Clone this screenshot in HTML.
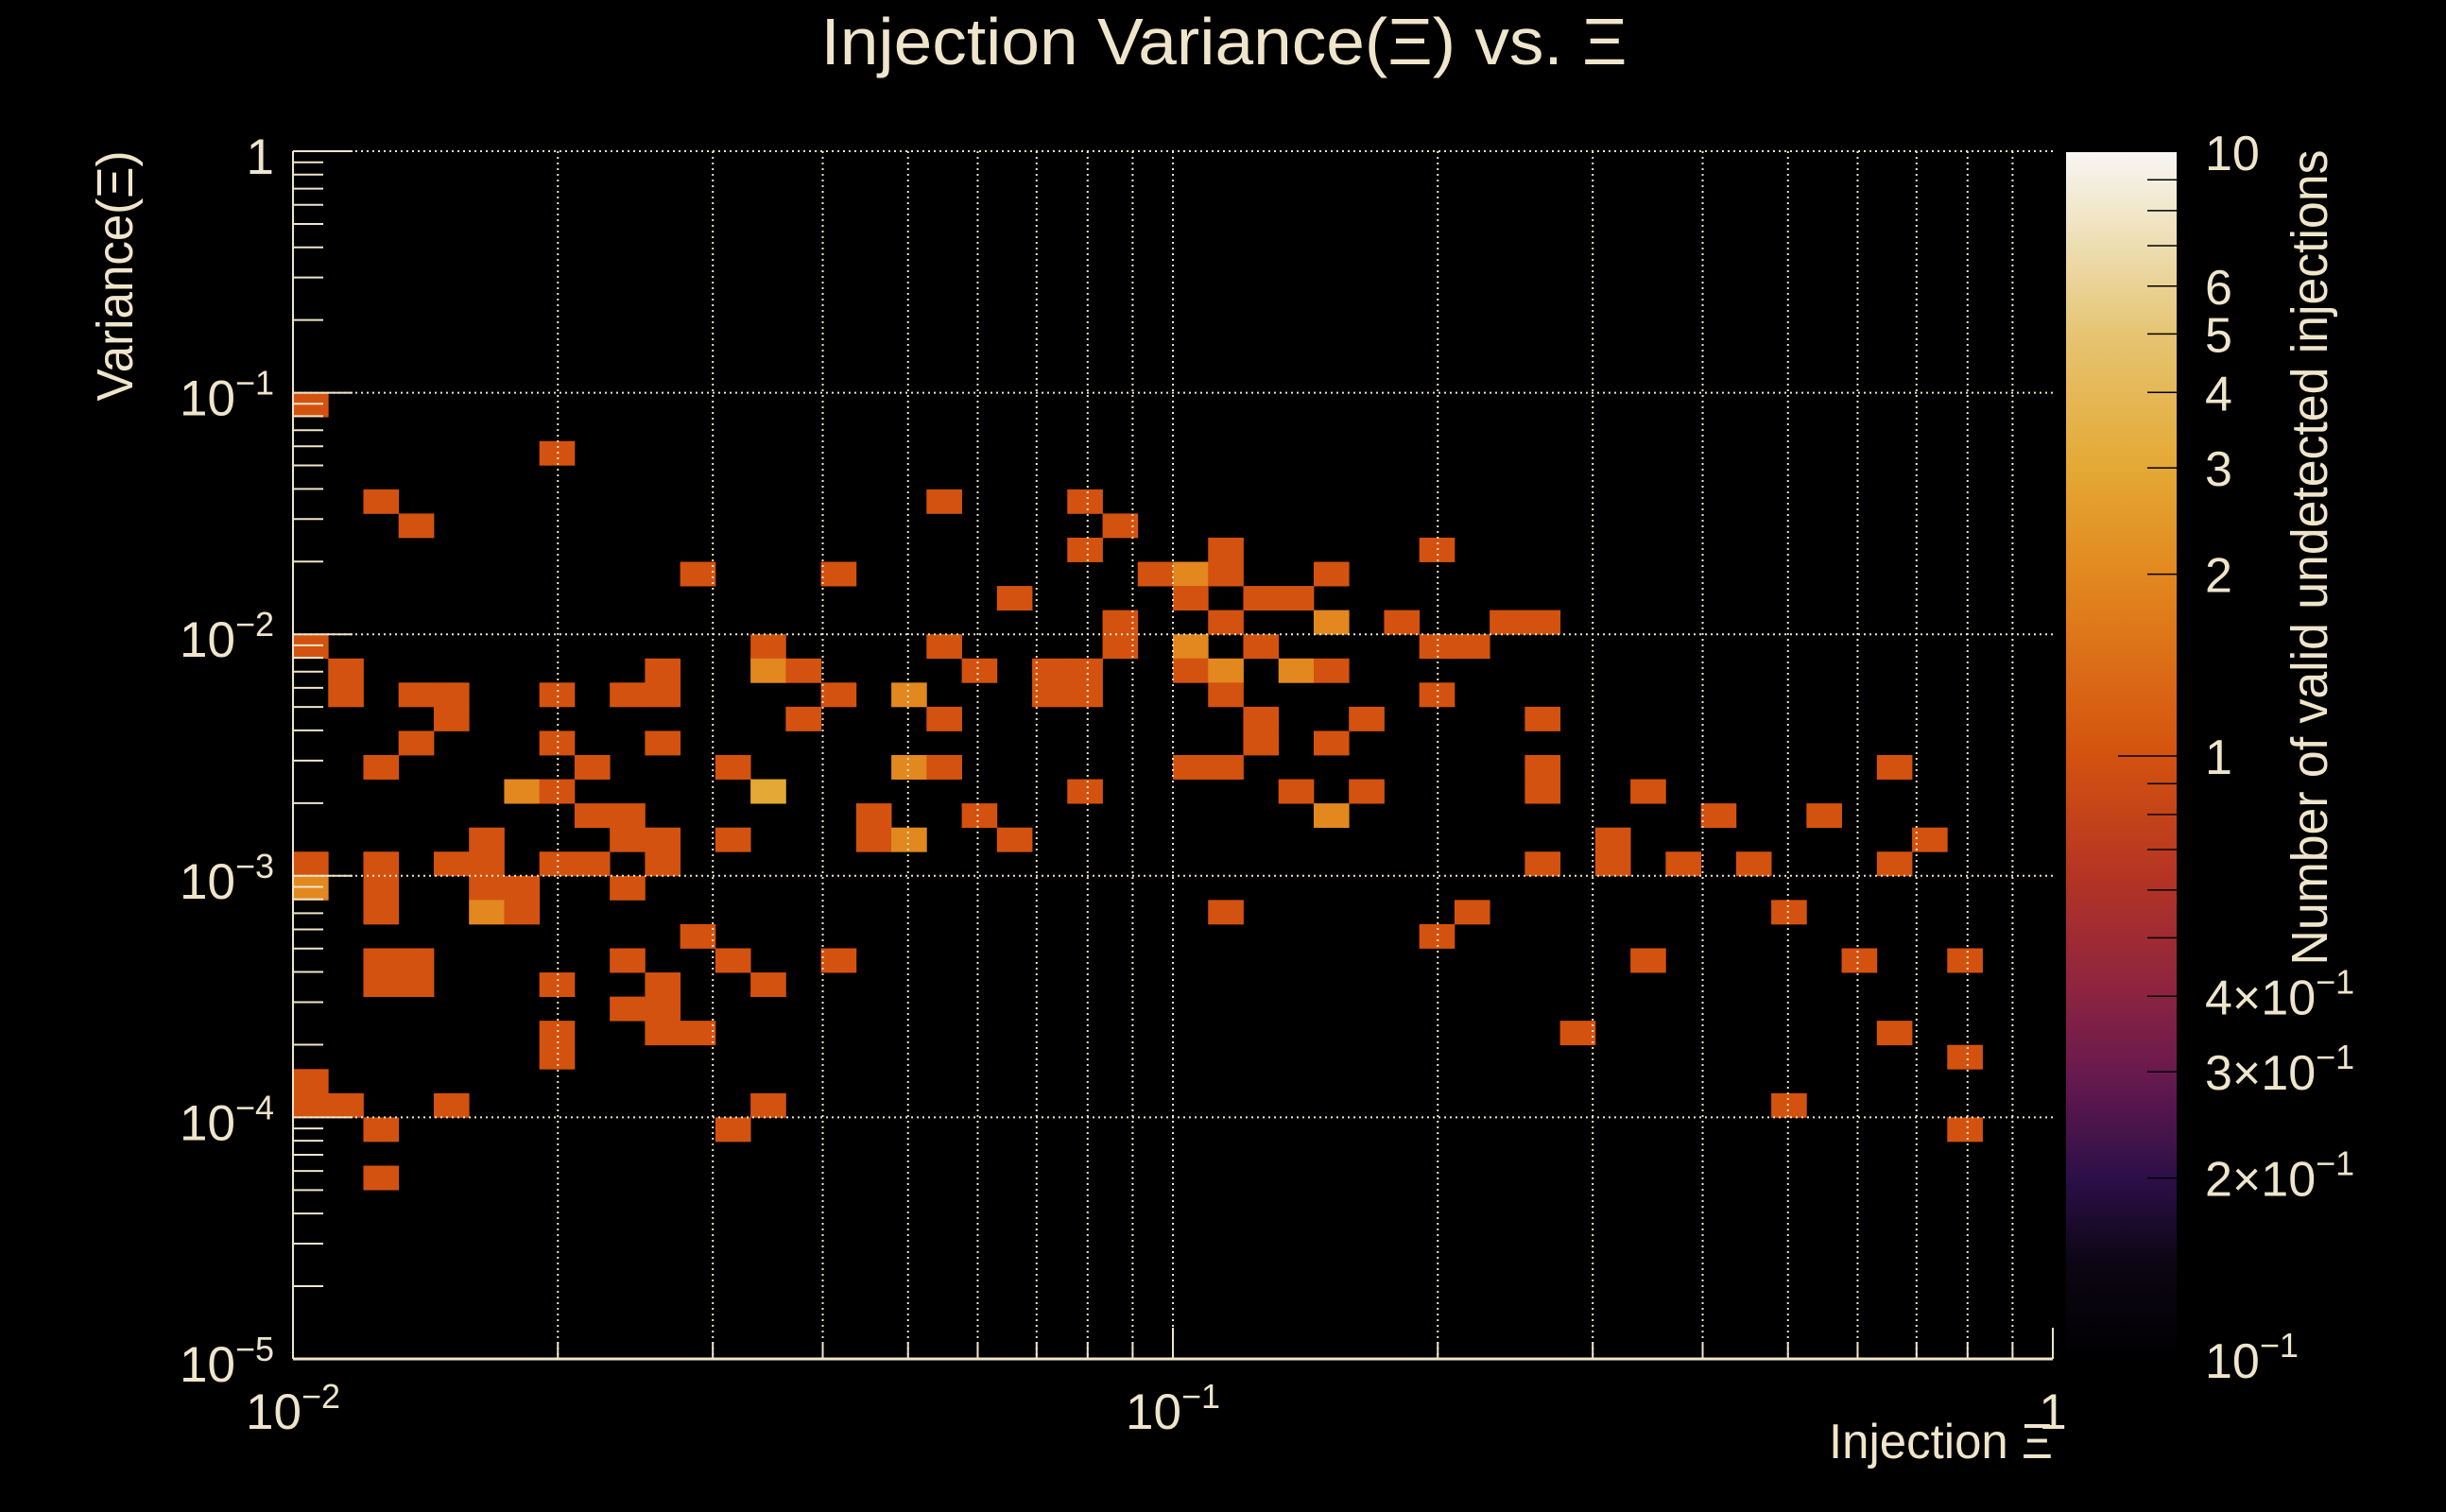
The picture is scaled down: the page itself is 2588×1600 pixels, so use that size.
<!DOCTYPE html>
<html><head><meta charset="utf-8"><style>
html,body{margin:0;padding:0;background:#000;}
svg{display:block;font-family:"Liberation Sans",sans-serif;}
</style></head><body>
<svg id="chart" width="2588" height="1600" viewBox="0 0 2588 1600" xmlns="http://www.w3.org/2000/svg">
<defs>
<linearGradient id="cbgrad" x1="0" y1="1" x2="0" y2="0">
<stop offset="0" stop-color="#000000"/><stop offset="0.08" stop-color="#0c0614"/><stop offset="0.15" stop-color="#2c0f48"/><stop offset="0.24" stop-color="#6a1a4e"/><stop offset="0.30" stop-color="#8a2342"/><stop offset="0.40" stop-color="#b43424"/><stop offset="0.5" stop-color="#d4520f"/><stop offset="0.65" stop-color="#e2881f"/><stop offset="0.74" stop-color="#e4a935"/><stop offset="0.85" stop-color="#e6c473"/><stop offset="0.93" stop-color="#eee0b8"/><stop offset="1" stop-color="#f8f6f4"/>
</linearGradient>
</defs>
<rect x="0" y="0" width="2588" height="1600" fill="#000"/>
<g id="cells"></g>
<g id="grid"></g>
<g id="axes"></g>
<g id="cbar"></g>
<text x="1295" y="68" font-size="70" fill="#efe5cb" text-anchor="middle" textLength="853" lengthAdjust="spacingAndGlyphs">Injection Variance(Ξ) vs. Ξ</text>
<text transform="translate(140,292) rotate(-90)" font-size="54" fill="#efe5cb" text-anchor="middle" textLength="265" lengthAdjust="spacingAndGlyphs">Variance(Ξ)</text>
<text x="2172" y="1543" font-size="52" fill="#efe5cb" text-anchor="end" textLength="237" lengthAdjust="spacingAndGlyphs">Injection Ξ</text>
<text transform="translate(2462,590) rotate(-90)" font-size="54" fill="#efe5cb" text-anchor="middle" textLength="863" lengthAdjust="spacingAndGlyphs">Number of valid undetected injections</text>
</svg>
<script>
// Data: 50x50 log bins; xBin index from left (0.01..1), yBin index from bottom (1e-5..1)
const xBins = [0,7,2,18,22,3,23,22,26,32,11,15,24,25,26,29,20,25,27,28,23,26,29,31,34,35,0,13,18,23,25,27,32,33,1,10,13,14,19,21,22,25,26,28,29,1,3,4,7,9,10,15,17,21,22,26,32,4,14,18,27,30,35,3,7,10,27,29,2,8,12,17,18,25,26,35,45,6,7,13,22,28,30,35,38,8,9,16,19,29,40,43,5,9,10,12,16,17,20,37,46,0,2,4,5,7,8,10,35,37,39,41,45,0,2,5,6,9,2,5,6,26,33,42,11,32,2,3,9,12,15,38,44,47,2,3,7,10,13,9,10,7,10,11,36,45,7,47,0,0,1,4,13,42,2,12,47,2,7];
const yRows = [10,12,14,14,14,15,15,16,16,16,17,17,17,17,17,17,18,18,18,18,19,19,19,19,19,19,20,20,20,20,20,20,20,20,21,21,21,21,21,21,21,21,21,21,21,22,22,22,22,22,22,22,22,22,22,22,22,23,23,23,23,23,23,24,24,24,24,24,25,25,25,25,25,25,25,25,25,26,26,26,26,26,26,26,26,27,27,27,27,27,27,27,28,28,28,28,28,28,28,28,28,29,29,29,29,29,29,29,29,29,29,29,29,30,30,30,30,30,31,31,31,31,31,31,32,32,33,33,33,33,33,33,33,33,34,34,34,34,34,35,35,36,36,36,36,36,37,37,38,39,39,39,39,39,40,40,40,42,42];
const counts = [1,1,1,1,1,1,1,1,1,1,1,1,1,2,1,1,1,1,1,1,1,1,2,1,1,1,1,1,1,1,2,1,1,1,1,1,2,1,1,1,1,1,2,2,1,1,1,1,1,1,1,1,2,1,1,1,1,1,1,1,1,1,1,1,1,1,1,1,1,1,1,2,1,1,1,1,1,2,1,3,1,1,1,1,1,1,1,1,1,2,1,1,1,1,1,1,1,2,1,1,1,1,1,1,1,1,1,1,1,1,1,1,1,2,1,1,1,1,1,2,1,1,1,1,1,1,1,1,1,1,1,1,1,1,1,1,1,1,1,1,1,1,1,1,1,1,1,1,1,1,1,1,1,1,1,1,1,1];
const yBins = yRows.map(r => 49 - r);
const xTickLabels = ["10","10","1"];
const xTickExps = ["−2","−1",""];
const yTickExps = ["−5","−4","−3","−2","−1",""];
const cbMajor = [0.2,0.3,0.4,1,2,3,4,5,6,10];
const cbLabels = ["2×10","3×10","4×10","1","2","3","4","5","6","10"];

const NS="http://www.w3.org/2000/svg", TXT="#efe5cb";
const PL=310, PR=2172, PT=160, PB=1438;
const xS = v => PL + (Math.log10(v)+2)/2*(PR-PL);
const yS = v => PB - (Math.log10(v)+5)/5*(PB-PT);
const CB={x0:2186,x1:2303,t:161,b:1439};
const cS = v => CB.b - (Math.log10(v)+1)/2*(CB.b-CB.t);
const stops=[[0,"#000000"],[0.08,"#0c0614"],[0.15,"#2c0f48"],[0.24,"#6a1a4e"],[0.30,"#8a2342"],[0.40,"#b43424"],[0.5,"#d4520f"],[0.65,"#e2881f"],[0.74,"#e4a935"],[0.85,"#e6c473"],[0.93,"#eee0b8"],[1,"#f8f6f4"]];
function hex(c){return [1,3,5].map(i=>parseInt(c.substr(i,2),16));}
function cmap(v){const f=Math.max(0,Math.min(1,(Math.log10(v)+1)/2));
 for(let i=1;i<stops.length;i++){if(f<=stops[i][0]){const a=stops[i-1],b=stops[i],t=(f-a[0])/(b[0]-a[0]);const A=hex(a[1]),B=hex(b[1]);
 return "rgb("+A.map((x,k)=>Math.round(x+(B[k]-x)*t)).join(",")+")";}} return stops[stops.length-1][1];}
function el(tag,attrs,parent){const e=document.createElementNS(NS,tag);for(const k in attrs)e.setAttribute(k,attrs[k]);parent.appendChild(e);return e;}

const cells=document.getElementById("cells");
for(let i=0;i<counts.length;i++){
 const x0=xS(Math.pow(10,-2+xBins[i]*0.04)), x1=xS(Math.pow(10,-2+(xBins[i]+1)*0.04));
 const y1=yS(Math.pow(10,-5+yBins[i]*0.1)), y0=yS(Math.pow(10,-5+(yBins[i]+1)*0.1));
 const r=el("rect",{x:x0.toFixed(2),y:y0.toFixed(2),width:(x1-x0+0.4).toFixed(2),height:(y1-y0+0.4).toFixed(2),fill:cmap(counts[i])},cells);
 
 
}
const grid=document.getElementById("grid");
for(let d=-2;d<0;d++)for(let m=1;m<=9;m++){const v=m*Math.pow(10,d);if(d===-2&&m===1)continue;const x=xS(v);
 const g=el("line",{x1:x,y1:PT,x2:x,y2:PB,stroke:TXT,"stroke-width":2,"stroke-dasharray":"2 4"},grid);
 
 }
for(let d=-4;d<=0;d++){const y=yS(Math.pow(10,d));
 const g=el("line",{x1:PL,y1:y,x2:PR,y2:y,stroke:TXT,"stroke-width":2,"stroke-dasharray":"2 4"},grid);
 
 }
const ax=document.getElementById("axes");
el("line",{x1:PL,y1:PT,x2:PL,y2:PB,stroke:TXT,"stroke-width":2},ax);
el("line",{x1:PL,y1:PB,x2:PR,y2:PB,stroke:TXT,"stroke-width":3},ax);
for(let d=-5;d<0;d++)for(let m=1;m<=9;m++){const y=yS(m*Math.pow(10,d));const len=m===1?63:32;
 el("line",{x1:PL,y1:y,x2:PL+len,y2:y,stroke:TXT,"stroke-width":2},ax);}
el("line",{x1:PL,y1:PT,x2:PL+63,y2:PT,stroke:TXT,"stroke-width":2},ax);
for(let d=-2;d<=0;d++)for(let m=1;m<=9;m++){if(d===0&&m>1)break;const x=xS(m*Math.pow(10,d));const len=m===1?33:18;
 el("line",{x1:x,y1:PB,x2:x,y2:PB-len,stroke:TXT,"stroke-width":2},ax);}
// y tick labels
for(let k=0;k<yTickExps.length;k++){const y=yS(Math.pow(10,k-5));
 const t=el("text",{x:290,y:y+24,"font-size":53,fill:TXT,"text-anchor":"end"},ax);
 
 
 if(yTickExps[k]===""){t.textContent="1";}
 else{t.appendChild(document.createTextNode("10"));const s=el("tspan",{"font-size":36,dy:-22},t);s.textContent=yTickExps[k];}}
// x tick labels
for(let k=0;k<xTickLabels.length;k++){const x=xS(Math.pow(10,k-2));
 const t=el("text",{x:x,y:1512,"font-size":53,fill:TXT,"text-anchor":"middle"},ax);
 
 
 t.appendChild(document.createTextNode(xTickLabels[k]));
 if(xTickExps[k]){const s=el("tspan",{"font-size":36,dy:-22},t);s.textContent=xTickExps[k];}}
// colorbar
const cb=document.getElementById("cbar");
const bar=el("rect",{x:CB.x0,y:CB.t,width:CB.x1-CB.x0,height:CB.b-CB.t,fill:"url(#cbgrad)"},cb);


for(let d=-1;d<1;d++)for(let m=1;m<=9;m++){const v=m*Math.pow(10,d);if(v<=0.1)continue;const y=cS(v);const len=(v===1)?62:31;
 el("line",{x1:CB.x1-len,y1:y,x2:CB.x1,y2:y,stroke:"#000","stroke-width":1.5},cb);}
for(let k=0;k<cbMajor.length;k++){const y=cS(cbMajor[k]);
 const t=el("text",{x:2333,y:y+19,"font-size":52,fill:TXT},cb);
 
 
 t.appendChild(document.createTextNode(cbLabels[k]));
 if(cbMajor[k]<1){const s=el("tspan",{"font-size":36,dy:-22},t);s.textContent="−1";}}
{const t=el("text",{x:2333,y:cS(0.1)+19,"font-size":52,fill:TXT},cb);
 
 
 t.appendChild(document.createTextNode("10"));const s=el("tspan",{"font-size":36,dy:-22},t);s.textContent="−1";}
</script>
</body></html>
